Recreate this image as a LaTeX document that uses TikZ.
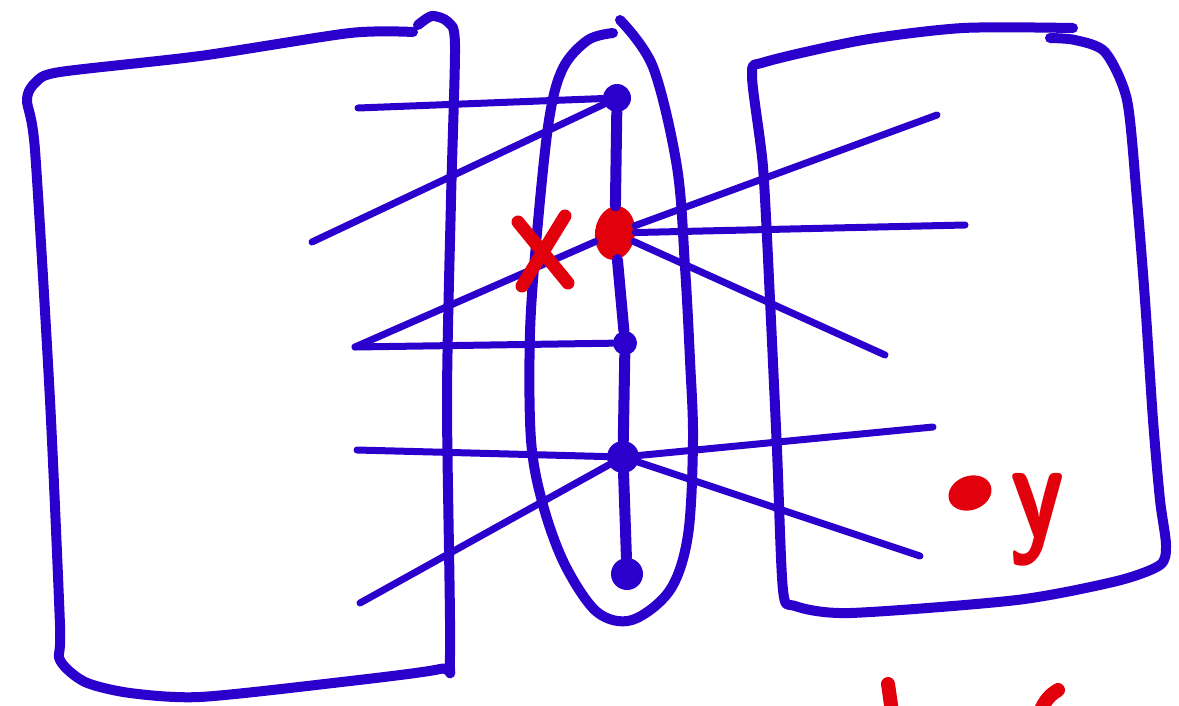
\documentclass[tikz,border=0pt]{standalone}
\usetikzlibrary{shapes.geometric}
\definecolor{penblue}{RGB}{44,0,204}
\definecolor{penred}{RGB}{226,0,12}

\begin{document}
\begin{tikzpicture}[
  x=1pt, y=-1pt,
  line cap=round, line join=round,
  frame/.style={draw=penblue, line width=10pt},
  wire/.style={draw=penblue, line width=7pt},
  spine/.style={draw=penblue, line width=11pt},
  dot/.style={circle, fill=penblue, inner sep=0pt, minimum size=28pt},
  hot/.style={ellipse, fill=penred, inner sep=0pt, minimum width=40pt, minimum height=54pt},
  ink/.style={draw=penred, line width=13pt}
]
\useasboundingbox (0,0) rectangle (1179,705);

% left set
\draw[frame] plot[smooth, tension=0.45] coordinates {
  (413,32) (350,33) (200,56) (60,72) (36,82) (27,100) (35,150) (50,400)
  (60,625) (60,660) (85,682) (130,693) (200,697) (333,683) (440,669)
  (450,655) (447,400) (451,200) (455,45) (448,22) (432,16) (418,25)};

% right set
\draw[frame] plot[smooth, tension=0.45] coordinates {
  (1073,28) (963,28) (863,40) (765,62) (752,75) (763,167) (770,300)
  (777,450) (783,590) (795,606) (850,613) (1017,600) (1117,581) (1160,565)
  (1166,545) (1160,500) (1153,420) (1145,300) (1137,200) (1127,100)
  (1105,52) (1075,40) (1050,38)};

% the middle oval
\draw[frame] plot[smooth, tension=0.55] coordinates {
  (620,20) (653,67) (677,167) (685,267) (690,360) (693,440) (688,535)
  (670,590) (632,620) (597,612) (565,565) (543,505) (531,440) (530,333)
  (537,233) (549,120) (563,68) (588,40) (613,33)};

% points on the spine
\node[dot] (v1) at (617,98) {};
\node[hot, rotate=-8] (v2) at (615,233) {};
\node[dot, minimum size=24pt] (v3) at (625,343) {};
\node[dot, minimum size=32pt] (v4) at (623,457) {};
\node[dot, minimum size=32pt] (v5) at (627,574) {};

\coordinate (a1) at (358,108);
\coordinate (a2) at (312,242);
\coordinate (a3) at (355,347);
\coordinate (a4) at (357,450);
\coordinate (a5) at (360,603);
\coordinate (b1) at (937,115);
\coordinate (b2) at (965,225);
\coordinate (b3) at (885,355);
\coordinate (b4) at (933,427);
\coordinate (b5) at (920,556);

\draw[spine] (v1) -- (v2) -- (v3) -- (v4) -- (v5);

\draw[wire] (a1) -- (v1);
\draw[wire] (a2) -- (v1);
\draw[wire] (a3) -- (v3);
\draw[wire] (a3) -- (v2);
\draw[wire] (a4) -- (v4);
\draw[wire] (a5) -- (v4);
\draw[wire] (v2) -- (b1);
\draw[wire] (v2) -- (b2);
\draw[wire] (v2) -- (b3);
\draw[wire] (v4) -- (b4);
\draw[wire] (v4) -- (b5);

% the cross
\draw[ink] (518,222) -- (568,283);
\draw[ink] (565,216) -- (522,286);

% the point y
\node[ellipse, fill=penred, inner sep=0pt, minimum width=44pt, minimum height=34pt, rotate=20] (ydot) at (970,493) {};
\node[anchor=base, text=penred, font=\fontsize{140}{140}\selectfont\sffamily\bfseries] (ylab) at (1037,537) {\scalebox{0.8}[1]{y}};

% strokes cut off at the bottom
\draw[ink, line width=14pt] (888,684) -- (892,712);
\draw[ink, line width=14pt] (1058,690) .. controls (1050,695) and (1045,700) .. (1040,712);
\end{tikzpicture}
\end{document}
